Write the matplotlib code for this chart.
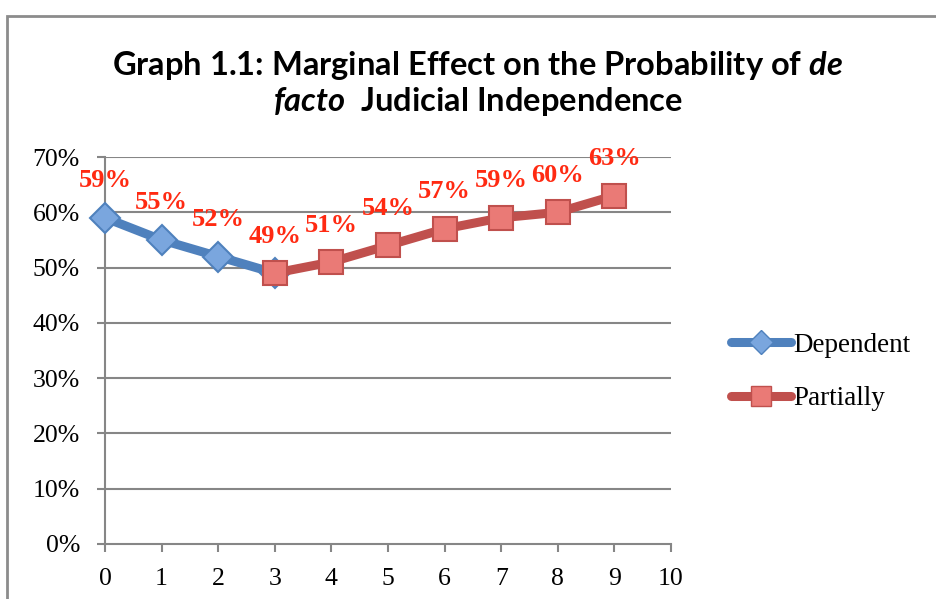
import matplotlib
matplotlib.use("Agg")
import matplotlib.pyplot as plt
from matplotlib.patches import Rectangle
from matplotlib.lines import Line2D

x_dep = [0, 1, 2, 3]
dependent = [59, 55, 52, 49]
x_par = [3, 4, 5, 6, 7, 8, 9]
partially = [49, 51, 54, 57, 59, 60, 63]
dep_labels = ["59%", "55%", "52%"]
par_labels = ["49%", "51%", "54%", "57%", "59%", "60%", "63%"]
yticks = [0, 10, 20, 30, 40, 50, 60, 70]
xticks = list(range(0, 11))

plt.rcParams['mathtext.fontset'] = 'custom'
plt.rcParams['mathtext.rm'] = 'Lato:bold'
plt.rcParams['mathtext.it'] = 'Lato:italic:bold'
plt.rcParams['mathtext.bf'] = 'Lato:bold'

W, H = 937, 599
fig = plt.figure(figsize=(W/100, H/100), dpi=100)
fig.patch.set_facecolor('white')

# outer border
fig.add_artist(Rectangle((7/W, -0.2), 1.2, 1 - 16/H + 0.2, transform=fig.transFigure,
                         fill=False, edgecolor='#8c8c8c', linewidth=2))

ax = fig.add_axes([105/W, 1 - 544/H, (671 - 105)/W, (544 - 157)/H])
grey = '#868686'
ax.set_xlim(0, 10)
ax.set_ylim(0, 70)
ax.set_yticks(yticks)
ax.set_yticklabels([f"{v}%" for v in yticks], family='Liberation Serif', fontsize=18.5)
ax.set_xticks(xticks)
ax.set_xticklabels([str(v) for v in xticks], family='Liberation Serif', fontsize=18.5)
for v in yticks[1:]:
    ax.axhline(v, color=grey, linewidth=1.5, zorder=1)
for s in ['top', 'right']:
    ax.spines[s].set_visible(False)
for s in ['left', 'bottom']:
    ax.spines[s].set_color(grey)
    ax.spines[s].set_linewidth(1.5)
ax.tick_params(axis='both', colors=grey, length=6, width=1.5, labelcolor='black')
ax.tick_params(axis='x', pad=11)
ax.tick_params(axis='y', pad=12)

blue = '#4f81bd'
red = '#c0504d'
ax.plot(x_dep, dependent, color=blue, linewidth=6.5, solid_capstyle='round', zorder=3,
        marker='D', markersize=15, markerfacecolor='#7aa6de', markeredgecolor=blue,
        markeredgewidth=1.5, clip_on=False)
ax.plot(x_par, partially, color=red, linewidth=6.5, solid_capstyle='round', zorder=4,
        marker='s', markersize=17, markerfacecolor='#ea7a76', markeredgecolor=red,
        markeredgewidth=1.5, clip_on=False)

lab_color = '#ff2a12'
for xi, yi, t in zip(x_dep, dependent, dep_labels):
    ax.annotate(t, (xi, yi), xytext=(0, 37), textcoords='offset pixels',
                ha='center', va='center', color=lab_color, fontsize=19, fontweight='bold',
                family='Liberation Serif', annotation_clip=False, zorder=5)
for xi, yi, t in zip(x_par, partially, par_labels):
    ax.annotate(t, (xi, yi), xytext=(0, 37), textcoords='offset pixels',
                ha='center', va='center', color=lab_color, fontsize=19, fontweight='bold',
                family='Liberation Serif', annotation_clip=False, zorder=5)

fig.text(478/W, 1 - 65/H, r"Graph 1.1: Marginal Effect on the Probability of $\mathit{de}$",
         ha='center', va='center', fontsize=23.5, family='Lato', fontweight='bold')
fig.text(478/W, 1 - 101/H, r"$\mathit{facto}$  Judicial Independence",
         ha='center', va='center', fontsize=23.5, family='Lato', fontweight='bold')

handles = [Line2D([], [], color=blue, linewidth=6.5, marker='D', markersize=12,
                  markerfacecolor='#7aa6de', markeredgecolor=blue, solid_capstyle='round'),
           Line2D([], [], color=red, linewidth=6.5, marker='s', markersize=14,
                  markerfacecolor='#ea7a76', markeredgecolor=red, solid_capstyle='round')]
fig.legend(handles, ["Dependent", "Partially"], loc='center left',
           bbox_to_anchor=(707/W, 1 - 372/H), frameon=False,
           prop={'family': 'Liberation Serif', 'size': 19.5},
           handlelength=2.2, handletextpad=0.1, labelspacing=1.05)

fig.savefig("out.png", dpi=100)
